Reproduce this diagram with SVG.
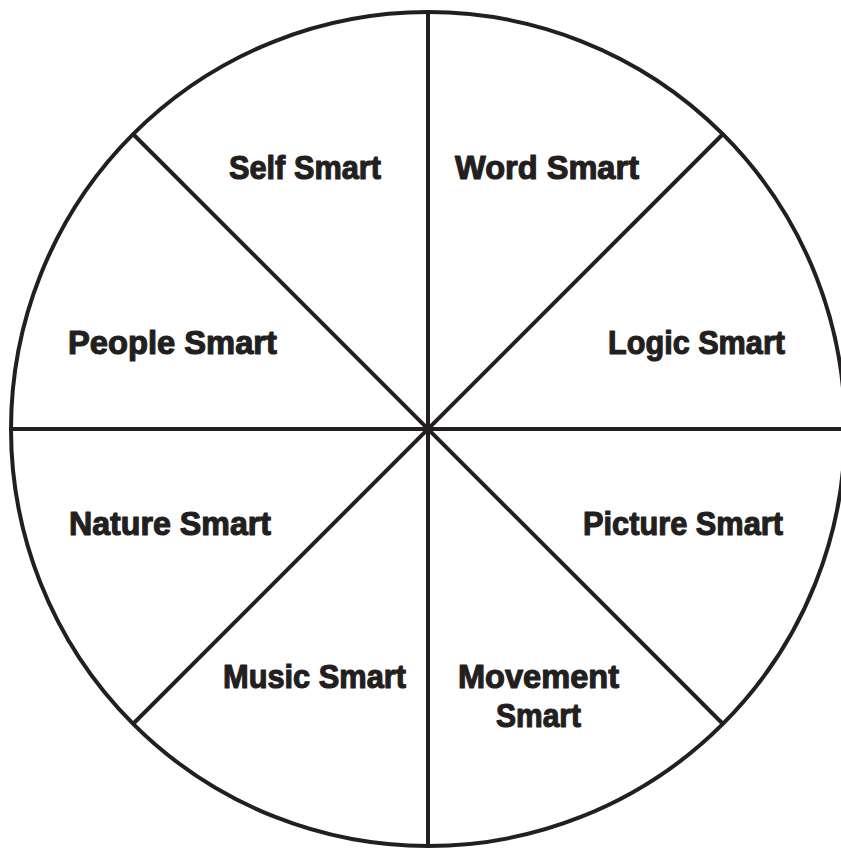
<svg xmlns="http://www.w3.org/2000/svg" width="841" height="850" viewBox="0 0 841 850">
<style>
.ln{stroke:#231f20;stroke-width:4;fill:none}
.t{font-family:"Liberation Sans",Arial,sans-serif;font-weight:bold;font-size:34px;fill:#231f20;stroke:#231f20;stroke-width:1.2;stroke-linejoin:round}
</style>
<rect width="841" height="850" fill="#fff"/>
<g id="connectors">
<circle class="ln" cx="428" cy="429" r="417"/>
<line class="ln" x1="428" y1="12" x2="428" y2="846"/>
<line class="ln" x1="11" y1="429" x2="845" y2="429"/>
<line class="ln" x1="133" y1="134" x2="723" y2="724"/>
<line class="ln" x1="723" y1="134" x2="133" y2="724"/>
</g>
<g id="self"><text class="t" x="229" y="179" textLength="152" lengthAdjust="spacingAndGlyphs">Self Smart</text></g>
<g id="word"><text class="t" x="455" y="179" textLength="184" lengthAdjust="spacingAndGlyphs">Word Smart</text></g>
<g id="people"><text class="t" x="68" y="354" textLength="209" lengthAdjust="spacingAndGlyphs">People Smart</text></g>
<g id="logic"><text class="t" x="608" y="354" textLength="177" lengthAdjust="spacingAndGlyphs">Logic Smart</text></g>
<g id="nature"><text class="t" x="69" y="535" textLength="202" lengthAdjust="spacingAndGlyphs">Nature Smart</text></g>
<g id="picture"><text class="t" x="583" y="535" textLength="200" lengthAdjust="spacingAndGlyphs">Picture Smart</text></g>
<g id="music"><text class="t" x="223" y="688" textLength="183" lengthAdjust="spacingAndGlyphs">Music Smart</text></g>
<g id="movement"><text class="t" x="458" y="688" textLength="161" lengthAdjust="spacingAndGlyphs">Movement</text><text class="t" x="496" y="727" textLength="85" lengthAdjust="spacingAndGlyphs">Smart</text></g>
</svg>
